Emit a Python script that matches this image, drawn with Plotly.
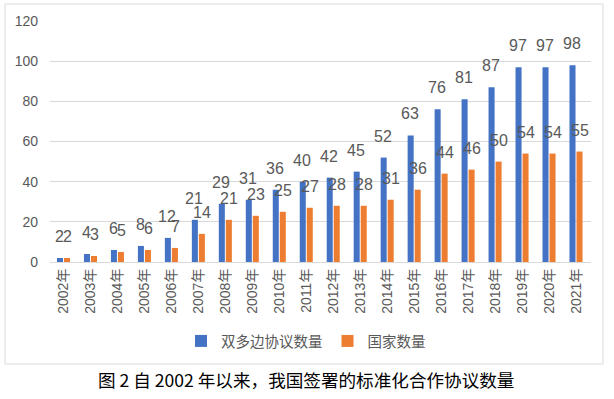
import plotly.graph_objects as go

years = [f"{y}年" for y in range(2002, 2022)]
agreements = [2, 4, 6, 8, 12, 21, 29, 31, 36, 40, 42, 45, 52, 63, 76, 81, 87, 97, 97, 98]
countries = [2, 3, 5, 6, 7, 14, 21, 23, 25, 27, 28, 28, 31, 36, 44, 46, 50, 54, 54, 55]
series_names = ["双多边协议数量", "国家数量"]
colors = ["#4472C4", "#ED7D31"]

FONT = "Liberation Sans, Noto Sans CJK SC, sans-serif"
GRAY = "#595959"

fig = go.Figure()
for name, vals, col in zip(series_names, [agreements, countries], colors):
    fig.add_trace(go.Bar(x=years, y=vals, name=name, marker_color=col,
                         marker_line_width=0))

annotations = []
for vals, shift in [(agreements, -4), (countries, 4)]:
    for x, v in zip(years, vals):
        annotations.append(dict(x=x, y=v, text=str(v), showarrow=False,
                                xref="x", yref="y", xshift=shift, yshift=11,
                                yanchor="bottom", xanchor="center",
                                font=dict(family=FONT, size=16, color=GRAY)))

annotations.append(dict(x=(306 - 50) / 541, y=-(379 - 262) / 241, xref="paper", yref="paper",
                        text="图 2 自 2002 年以来，我国签署的标准化合作协议数量",
                        showarrow=False, xanchor="center", yanchor="middle",
                        font=dict(family="Noto Sans CJK SC, sans-serif", size=17.6, color="#000000")))

fig.update_layout(
    width=614, height=399,
    margin=dict(l=50, r=23, t=21, b=137, autoexpand=False),
    paper_bgcolor="white", plot_bgcolor="white",
    barmode="group", bargap=0.48, bargroupgap=0.14,
    font=dict(family=FONT, color=GRAY),
    showlegend=True,
    legend=dict(orientation="h", x=(306 - 50) / 541, xanchor="center",
                y=-(341 - 262) / 241, yanchor="middle", itemwidth=30,
                font=dict(family="Noto Sans CJK SC, sans-serif", size=14.5, color=GRAY),
                traceorder="normal"),
    annotations=annotations,
    shapes=[dict(type="rect", xref="paper", yref="paper",
                 x0=-45/541, x1=(603-50)/541, y0=-(364-262)/241, y1=(262-4)/241,
                 line=dict(color="#D9D9D9", width=1), fillcolor="rgba(0,0,0,0)", layer="below")],
)
fig.update_xaxes(tickangle=-90, tickfont=dict(family=FONT, size=14, color=GRAY),
                 showline=True, linecolor="#D9D9D9", linewidth=1, ticks="", automargin=False)
fig.update_yaxes(range=[0, 120], dtick=20, showgrid=True, gridcolor="#D9D9D9",
                 zeroline=False, showline=False, automargin=False,
                 tickfont=dict(family=FONT, size=14, color=GRAY), ticklabelstandoff=11)

fig.write_html("out.html", config={"displayModeBar": False},
               post_script="document.body.style.margin='0';")
